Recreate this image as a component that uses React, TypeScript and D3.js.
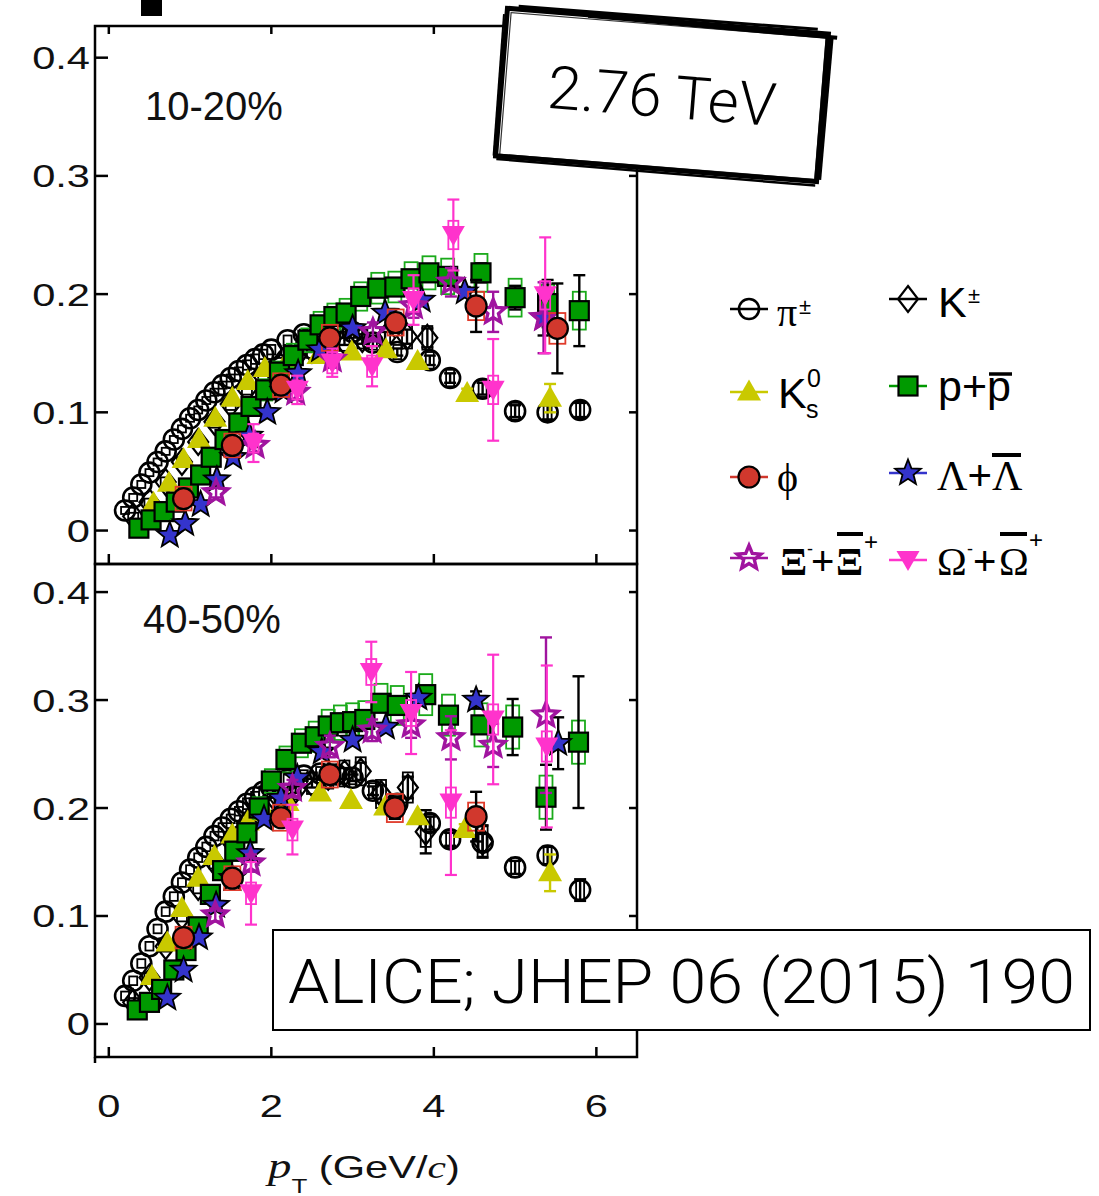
import React from "react";
import * as d3 from "d3";

// [pT, v2, statErr, sysErr]
type Pt = [number, number, number, number];

const xTicks = [0, 2, 4, 6];
const yTicks = [0, 0.1, 0.2, 0.3, 0.4];
const yTickLabels = ["0", "0.1", "0.2", "0.3", "0.4"];
const panelLabels = ["10-20%", "40-50%"];

// ---------------- 10-20% ----------------
const pion1020: Pt[] = [
  [0.2, 0.017, 0, 0.003], [0.3, 0.028, 0, 0.003], [0.4, 0.039, 0, 0.003], [0.5, 0.049, 0, 0.003],
  [0.6, 0.058, 0, 0.003], [0.7, 0.067, 0, 0.003], [0.8, 0.077, 0, 0.003], [0.9, 0.086, 0, 0.003],
  [1.0, 0.095, 0, 0.003], [1.1, 0.102, 0, 0.003], [1.2, 0.11, 0, 0.003], [1.3, 0.117, 0, 0.003],
  [1.4, 0.123, 0, 0.003], [1.5, 0.129, 0, 0.003], [1.6, 0.135, 0, 0.003], [1.7, 0.14, 0, 0.004],
  [1.8, 0.145, 0, 0.004], [1.9, 0.149, 0, 0.004], [2.0, 0.153, 0, 0.004], [2.2, 0.161, 0, 0.004],
  [2.4, 0.166, 0, 0.004], [2.6, 0.169, 0, 0.005], [2.8, 0.17, 0, 0.005], [3.0, 0.168, 0.002, 0.005],
  [3.25, 0.159, 0.003, 0.006], [3.55, 0.151, 0.003, 0.006], [3.95, 0.144, 0.004, 0.007],
  [4.2, 0.129, 0.004, 0.007], [4.6, 0.12, 0.005, 0.007], [5.0, 0.101, 0.005, 0.007],
  [5.4, 0.1, 0.006, 0.007], [5.8, 0.102, 0.006, 0.007],
];
const kaon1020: Pt[] = [
  [0.3, 0.012, 0, 0.003], [0.5, 0.024, 0, 0.003], [0.7, 0.041, 0, 0.004], [0.9, 0.058, 0, 0.004],
  [1.1, 0.075, 0, 0.004], [1.3, 0.092, 0, 0.005], [1.5, 0.107, 0, 0.005], [1.7, 0.12, 0, 0.005],
  [1.9, 0.131, 0, 0.006], [2.1, 0.14, 0, 0.006], [2.3, 0.147, 0.002, 0.006], [2.5, 0.153, 0.002, 0.007],
  [2.7, 0.157, 0.003, 0.007], [2.9, 0.16, 0.003, 0.008], [3.12, 0.162, 0.004, 0.008],
  [3.4, 0.163, 0.005, 0.009], [3.67, 0.164, 0.006, 0.01], [3.92, 0.163, 0.008, 0.01],
];
const k0s1020: Pt[] = [
  [0.55, 0.023, 0, 0], [0.74, 0.04, 0, 0], [0.92, 0.06, 0, 0], [1.11, 0.077, 0, 0],
  [1.31, 0.095, 0, 0], [1.52, 0.112, 0, 0], [1.71, 0.126, 0, 0], [1.92, 0.137, 0, 0],
  [2.2, 0.144, 0, 0], [2.58, 0.148, 0, 0], [2.99, 0.151, 0, 0], [3.41, 0.153, 0, 0],
  [3.8, 0.143, 0, 0], [4.41, 0.116, 0.004, 0], [5.43, 0.112, 0.012, 0],
];
const proton1020: Pt[] = [
  [0.37, 0.002, 0, 0.004], [0.52, 0.009, 0, 0.004], [0.68, 0.016, 0, 0.005], [0.83, 0.024, 0, 0.005],
  [0.98, 0.036, 0, 0.006], [1.13, 0.047, 0, 0.006], [1.26, 0.062, 0, 0.007], [1.43, 0.077, 0, 0.007],
  [1.6, 0.091, 0, 0.008], [1.75, 0.105, 0, 0.008], [1.93, 0.119, 0, 0.009], [2.1, 0.134, 0, 0.009],
  [2.27, 0.148, 0, 0.01], [2.45, 0.161, 0, 0.01], [2.6, 0.174, 0, 0.011], [2.77, 0.181, 0, 0.011],
  [2.92, 0.184, 0, 0.012], [3.1, 0.198, 0, 0.012], [3.31, 0.205, 0, 0.013], [3.52, 0.206, 0, 0.013],
  [3.72, 0.213, 0, 0.014], [3.94, 0.218, 0, 0.014], [4.17, 0.215, 0, 0.015], [4.58, 0.218, 0.008, 0.016],
  [5.0, 0.197, 0.01, 0.016], [5.4, 0.192, 0.02, 0.016], [5.79, 0.186, 0.03, 0.016],
];
const phi1020: Pt[] = [
  [0.92, 0.027, 0.004, 0.01], [1.52, 0.072, 0.005, 0.01], [2.12, 0.123, 0.005, 0.01],
  [2.72, 0.163, 0.006, 0.011], [3.53, 0.176, 0.008, 0.011], [4.52, 0.19, 0.022, 0.012],
  [5.52, 0.171, 0.038, 0.013],
];
const lambda1020: Pt[] = [
  [0.75, -0.004, 0, 0], [0.94, 0.006, 0, 0], [1.13, 0.022, 0, 0], [1.33, 0.043, 0, 0],
  [1.53, 0.062, 0, 0], [1.73, 0.08, 0, 0], [1.95, 0.1, 0, 0], [2.15, 0.118, 0, 0],
  [2.33, 0.133, 0, 0], [2.6, 0.153, 0, 0], [3.0, 0.171, 0, 0], [3.4, 0.184, 0, 0],
  [3.85, 0.195, 0, 0], [4.38, 0.202, 0.004, 0], [5.35, 0.18, 0.015, 0],
];
const xi1020: Pt[] = [
  [1.32, 0.032, 0.004, 0], [1.8, 0.072, 0.006, 0], [2.3, 0.117, 0.006, 0], [2.75, 0.145, 0.007, 0],
  [3.25, 0.168, 0.008, 0], [3.75, 0.19, 0.01, 0], [4.21, 0.21, 0.012, 0], [4.73, 0.185, 0.017, 0],
  [5.35, 0.18, 0.03, 0],
];
const omega1020: Pt[] = [
  [1.78, 0.074, 0.016, 0.008], [2.32, 0.119, 0.012, 0.008], [2.75, 0.142, 0.012, 0.009],
  [3.24, 0.139, 0.017, 0.009], [3.75, 0.195, 0.021, 0.01], [4.24, 0.25, 0.03, 0.012],
  [4.73, 0.119, 0.043, 0.012], [5.37, 0.199, 0.049, 0.012],
];

// ---------------- 40-50% ----------------
const pion4050: Pt[] = [
  [0.2, 0.026, 0, 0.004], [0.3, 0.04, 0, 0.004], [0.4, 0.056, 0, 0.004], [0.5, 0.072, 0, 0.004],
  [0.6, 0.088, 0, 0.004], [0.7, 0.104, 0, 0.004], [0.8, 0.118, 0, 0.004], [0.9, 0.131, 0, 0.004],
  [1.0, 0.143, 0, 0.004], [1.1, 0.154, 0, 0.004], [1.2, 0.164, 0, 0.004], [1.3, 0.174, 0, 0.004],
  [1.4, 0.182, 0, 0.004], [1.5, 0.19, 0, 0.004], [1.6, 0.197, 0, 0.004], [1.7, 0.204, 0, 0.005],
  [1.8, 0.21, 0, 0.005], [1.9, 0.215, 0, 0.005], [2.0, 0.219, 0, 0.005], [2.2, 0.226, 0, 0.005],
  [2.4, 0.23, 0, 0.005], [2.6, 0.232, 0, 0.006], [2.8, 0.231, 0, 0.006], [3.0, 0.228, 0.003, 0.006],
  [3.25, 0.216, 0.004, 0.007], [3.55, 0.204, 0.005, 0.007], [3.95, 0.186, 0.006, 0.008],
  [4.2, 0.171, 0.006, 0.008], [4.6, 0.168, 0.008, 0.009], [5.0, 0.145, 0.006, 0.009],
  [5.4, 0.156, 0.008, 0.009], [5.8, 0.124, 0.01, 0.009],
];
const kaon4050: Pt[] = [
  [0.3, 0.02, 0, 0.004], [0.5, 0.043, 0, 0.004], [0.7, 0.072, 0, 0.005], [0.9, 0.1, 0, 0.005],
  [1.1, 0.127, 0, 0.006], [1.3, 0.15, 0, 0.006], [1.5, 0.17, 0, 0.007], [1.7, 0.186, 0, 0.007],
  [1.9, 0.199, 0, 0.008], [2.1, 0.209, 0, 0.008], [2.3, 0.217, 0.003, 0.009], [2.5, 0.223, 0.004, 0.01],
  [2.7, 0.229, 0.004, 0.011], [2.9, 0.232, 0.005, 0.012], [3.1, 0.234, 0.008, 0.013],
  [3.35, 0.213, 0.008, 0.013], [3.68, 0.219, 0.01, 0.014], [3.9, 0.178, 0.02, 0.014],
  [4.6, 0.169, 0.015, 0.014],
];
const k0s4050: Pt[] = [
  [0.53, 0.044, 0, 0], [0.72, 0.075, 0, 0], [0.9, 0.107, 0, 0], [1.1, 0.135, 0, 0],
  [1.3, 0.155, 0, 0], [1.52, 0.175, 0, 0], [1.71, 0.187, 0, 0], [1.92, 0.196, 0, 0],
  [2.2, 0.205, 0, 0], [2.6, 0.214, 0, 0], [2.98, 0.207, 0, 0], [3.4, 0.201, 0, 0],
  [3.8, 0.192, 0, 0], [4.38, 0.18, 0.005, 0], [5.43, 0.14, 0.017, 0],
];
const proton4050: Pt[] = [
  [0.35, 0.013, 0, 0.005], [0.5, 0.02, 0, 0.005], [0.65, 0.032, 0, 0.006], [0.8, 0.05, 0, 0.006],
  [0.95, 0.068, 0, 0.007], [1.1, 0.09, 0, 0.007], [1.25, 0.12, 0, 0.008], [1.4, 0.142, 0, 0.008],
  [1.55, 0.16, 0, 0.009], [1.7, 0.177, 0, 0.009], [1.85, 0.2, 0, 0.01], [2.0, 0.225, 0, 0.011],
  [2.18, 0.245, 0, 0.012], [2.37, 0.26, 0, 0.013], [2.54, 0.266, 0, 0.014], [2.7, 0.276, 0, 0.015],
  [2.85, 0.279, 0, 0.016], [3.0, 0.28, 0, 0.017], [3.15, 0.282, 0, 0.017], [3.35, 0.297, 0, 0.018],
  [3.55, 0.295, 0, 0.018], [3.9, 0.305, 0, 0.019], [4.18, 0.286, 0, 0.019], [4.58, 0.277, 0.008, 0.02],
  [4.97, 0.275, 0.026, 0.02], [5.38, 0.21, 0.03, 0.02], [5.78, 0.261, 0.061, 0.02],
];
const phi4050: Pt[] = [
  [0.92, 0.08, 0.005, 0.01], [1.52, 0.135, 0.006, 0.011], [2.12, 0.191, 0.007, 0.012],
  [2.72, 0.231, 0.008, 0.012], [3.52, 0.2, 0.01, 0.013], [4.52, 0.192, 0.023, 0.013],
];
const lambda4050: Pt[] = [
  [0.72, 0.024, 0, 0], [0.92, 0.05, 0, 0], [1.11, 0.08, 0, 0], [1.32, 0.11, 0, 0],
  [1.52, 0.135, 0, 0], [1.74, 0.158, 0, 0], [1.91, 0.19, 0, 0], [2.12, 0.209, 0, 0],
  [2.32, 0.228, 0, 0], [2.62, 0.252, 0, 0], [3.0, 0.263, 0, 0], [3.41, 0.275, 0, 0],
  [3.81, 0.302, 0, 0], [4.52, 0.3, 0.008, 0], [5.53, 0.26, 0.024, 0],
];
const xi4050: Pt[] = [
  [1.31, 0.101, 0.006, 0], [1.75, 0.149, 0.008, 0], [2.26, 0.218, 0.008, 0], [2.72, 0.257, 0.01, 0],
  [3.24, 0.272, 0.01, 0], [3.72, 0.277, 0.012, 0], [4.21, 0.265, 0.02, 0], [4.73, 0.258, 0.02, 0],
  [5.38, 0.286, 0.072, 0],
];
const omega4050: Pt[] = [
  [1.75, 0.121, 0.029, 0.01], [2.26, 0.18, 0.023, 0.01], [3.23, 0.326, 0.028, 0.012],
  [3.72, 0.288, 0.038, 0.012], [4.21, 0.205, 0.067, 0.014], [4.73, 0.282, 0.06, 0.014],
  [5.39, 0.257, 0.075, 0.014],
];

// ---------------- layout ----------------
const W = 1099;
const H = 1196;
const X0 = 95;
const X1 = 637;
const xScale = d3.scaleLinear().domain([-0.17, 6.5]).range([X0, X1]);
const yTop = d3.scaleLinear().domain([-0.0283, 0.4268]).range([564, 26]);
const yBot = d3.scaleLinear().domain([-0.0306, 0.426]).range([1057, 564]);

const COL = {
  yellow: "#c9c900",
  green: "#009a00",
  greenSys: "#1aaa1a",
  red: "#d1382d",
  redSys: "#e03a2a",
  blue: "#3434cc",
  purple: "#a0149f",
  pink: "#ff33cc",
};

type Kind = "pion" | "kaon" | "k0s" | "proton" | "phi" | "lambda" | "xi" | "omega";

function starPath(x: number, y: number, R: number, r: number) {
  const pts: string[] = [];
  for (let i = 0; i < 10; i++) {
    const a = -Math.PI / 2 + (i * Math.PI) / 5;
    const rr = i % 2 === 0 ? R : r;
    pts.push(`${(x + rr * Math.cos(a)).toFixed(2)},${(y + rr * Math.sin(a)).toFixed(2)}`);
  }
  return "M" + pts.join("L") + "Z";
}

function Marker({ kind, x, y }: { kind: Kind; x: number; y: number }) {
  switch (kind) {
    case "pion":
      return <circle cx={x} cy={y} r={10} fill="none" stroke="#000" strokeWidth={2.6} />;
    case "kaon":
      return (
        <path d={`M${x},${y - 13}L${x + 10},${y}L${x},${y + 13}L${x - 10},${y}Z`} fill="none" stroke="#000" strokeWidth={2.2} />
      );
    case "k0s":
      return <path d={`M${x},${y - 12.5}L${x + 12},${y + 8.5}L${x - 12},${y + 8.5}Z`} fill={COL.yellow} />;
    case "proton":
      return <rect x={x - 9.5} y={y - 9.5} width={19} height={19} fill={COL.green} stroke="#000" strokeWidth={2.2} />;
    case "phi":
      return <circle cx={x} cy={y} r={10.5} fill={COL.red} stroke="#000" strokeWidth={2.2} />;
    case "lambda":
      return <path d={starPath(x, y, 13.5, 5.8)} fill={COL.blue} stroke="#000" strokeWidth={1.8} />;
    case "xi":
      return <path d={starPath(x, y, 12.5, 5.6)} fill="none" stroke={COL.purple} strokeWidth={3.4} />;
    case "omega":
      return <path d={`M${x - 11.5},${y - 9}L${x + 11.5},${y - 9}L${x},${y + 11}Z`} fill={COL.pink} />;
  }
}

type SeriesDef = {
  kind: Kind;
  top: Pt[];
  bot: Pt[];
  bar: string;
  sysColor: string;
  sysW: number;
};

const SERIES: SeriesDef[] = [
  { kind: "kaon", top: kaon1020, bot: kaon4050, bar: "#000", sysColor: "#000", sysW: 10 },
  { kind: "pion", top: pion1020, bot: pion4050, bar: "#000", sysColor: "#000", sysW: 8 },
  { kind: "k0s", top: k0s1020, bot: k0s4050, bar: COL.yellow, sysColor: COL.yellow, sysW: 10 },
  { kind: "proton", top: proton1020, bot: proton4050, bar: "#000", sysColor: COL.greenSys, sysW: 13 },
  { kind: "lambda", top: lambda1020, bot: lambda4050, bar: "#000", sysColor: COL.blue, sysW: 10 },
  { kind: "xi", top: xi1020, bot: xi4050, bar: COL.purple, sysColor: COL.purple, sysW: 10 },
  { kind: "phi", top: phi1020, bot: phi4050, bar: "#000", sysColor: COL.redSys, sysW: 16 },
  { kind: "omega", top: omega1020, bot: omega4050, bar: COL.pink, sysColor: COL.pink, sysW: 10 },
];

function SeriesMarks({ s, data, y }: { s: SeriesDef; data: Pt[]; y: d3.ScaleLinear<number, number> }) {
  return (
    <g>
      {data.map((d, i) =>
        d[3] > 0 ? (
          <rect
            key={"s" + i}
            x={xScale(d[0]) - s.sysW / 2}
            y={y(d[1] + d[3])}
            width={s.sysW}
            height={y(d[1] - d[3]) - y(d[1] + d[3])}
            fill="none"
            stroke={s.sysColor}
            strokeWidth={1.8}
          />
        ) : null
      )}
      {data.map((d, i) =>
        d[2] > 0 ? (
          <g key={"e" + i} stroke={s.bar} strokeWidth={s.bar === COL.pink ? 2.2 : 2.4}>
            <line x1={xScale(d[0])} x2={xScale(d[0])} y1={y(d[1] + d[2])} y2={y(d[1] - d[2])} />
            <line x1={xScale(d[0]) - 6} x2={xScale(d[0]) + 6} y1={y(d[1] + d[2])} y2={y(d[1] + d[2])} />
            <line x1={xScale(d[0]) - 6} x2={xScale(d[0]) + 6} y1={y(d[1] - d[2])} y2={y(d[1] - d[2])} />
          </g>
        ) : null
      )}
      {data.map((d, i) => (
        <Marker key={"m" + i} kind={s.kind} x={xScale(d[0])} y={y(d[1])} />
      ))}
    </g>
  );
}

const SANS = "'Liberation Sans', Arial, Helvetica, sans-serif";
const SERIF = "'Liberation Serif', 'Times New Roman', serif";
const LIGHT = "Roboto, 'Liberation Sans', sans-serif";

function Panel({ which }: { which: "top" | "bot" }) {
  const y = which === "top" ? yTop : yBot;
  const [yb, yt] = [y.range()[0], y.range()[1]];
  return (
    <g>
      <rect x={X0} y={yt} width={X1 - X0} height={yb - yt} fill="none" stroke="#000" strokeWidth={2.5} />
      {yTicks.map((t, i) => (
        <g key={"yt" + i} stroke="#000" strokeWidth={2.5}>
          <line x1={X0} x2={X0 + 13} y1={y(t)} y2={y(t)} />
          <line x1={X1} x2={X1 - 8} y1={y(t)} y2={y(t)} />
        </g>
      ))}
      {xTicks.map((t, i) => (
        <g key={"xt" + i} stroke="#000" strokeWidth={2.5}>
          <line x1={xScale(t)} x2={xScale(t)} y1={yb} y2={yb - 10} />
          {which === "top" ? <line x1={xScale(t)} x2={xScale(t)} y1={yt} y2={yt + 8} /> : null}
        </g>
      ))}
      {yTicks.map((t, i) => (
        <text
          key={"yl" + i}
          transform={`translate(90,${y(t) + 11.5}) scale(1.3,1)`}
          textAnchor="end"
          fontFamily={SANS}
          fontSize={32}
          fill="#111"
        >
          {yTickLabels[i]}
        </text>
      ))}
      <text x={which === "top" ? 145 : 143} y={which === "top" ? 120 : 633} fontFamily={SANS} fontSize={40} fill="#111">
        {which === "top" ? panelLabels[0] : panelLabels[1]}
      </text>
      {SERIES.map((s) => (
        <SeriesMarks key={s.kind} s={s} data={which === "top" ? s.top : s.bot} y={y} />
      ))}
    </g>
  );
}

function LegendEntry({ kind, x, y, color }: { kind: Kind; x: number; y: number; color: string }) {
  return (
    <g>
      <line x1={x - 19} x2={x + 19} y1={y} y2={y} stroke={color} strokeWidth={2.5} />
      <Marker kind={kind} x={x} y={y} />
    </g>
  );
}

function Legend() {
  return (
    <g fill="#000">
      <LegendEntry kind="pion" x={749} y={309} color="#000" />
      <text x={777} y={326} fontFamily={SERIF} fontSize={40}>π</text>
      <text x={799} y={314} fontFamily={SANS} fontSize={22}>±</text>

      <LegendEntry kind="kaon" x={908} y={299} color="#000" />
      <text x={938} y={317} fontFamily={SANS} fontSize={43}>K</text>
      <text x={968} y={303} fontFamily={SANS} fontSize={22}>±</text>

      <LegendEntry kind="k0s" x={749} y={392} color={COL.yellow} />
      <text x={778} y={408} fontFamily={SANS} fontSize={43}>K</text>
      <text x={806} y={418} fontFamily={SANS} fontSize={25}>s</text>
      <text x={807} y={387} fontFamily={SANS} fontSize={25}>0</text>

      <LegendEntry kind="proton" x={908} y={386} color={COL.green} />
      <text x={938} y={401} fontFamily={SANS} fontSize={43}>p+p</text>
      <line x1={989} x2={1012} y1={374} y2={374} stroke="#000" strokeWidth={3.5} />

      <LegendEntry kind="phi" x={749} y={477} color={COL.red} />
      <text x={777} y={491} fontFamily={SERIF} fontSize={40}>ϕ</text>

      <LegendEntry kind="lambda" x={908} y={473} color={COL.blue} />
      <text x={937} y={490} fontFamily={SERIF} fontSize={42}>
        Λ<tspan fontFamily={SANS}>+</tspan>Λ
      </text>
      <line x1={992} x2={1021} y1={455} y2={455} stroke="#000" strokeWidth={4} />

      <LegendEntry kind="xi" x={749} y={558} color={COL.purple} />
      <text x={780} y={575} fontFamily={SERIF} fontSize={40} fontWeight="bold">
        Ξ
      </text>
      <text x={807} y={555} fontFamily={SANS} fontSize={18}>-</text>
      <text x={811} y={575} fontFamily={SANS} fontSize={40}>+</text>
      <text x={836} y={575} fontFamily={SERIF} fontSize={40} fontWeight="bold">
        Ξ
      </text>
      <line x1={837} x2={863} y1={534} y2={534} stroke="#000" strokeWidth={4} />
      <text x={864} y={550} fontFamily={SANS} fontSize={24}>+</text>

      <LegendEntry kind="omega" x={908} y={560} color={COL.pink} />
      <text x={937} y={575} fontFamily={SERIF} fontSize={40}>
        Ω
      </text>
      <text x={967} y={555} fontFamily={SANS} fontSize={18}>-</text>
      <text x={973} y={575} fontFamily={SANS} fontSize={40}>+</text>
      <text x={999} y={575} fontFamily={SERIF} fontSize={40}>
        Ω
      </text>
      <line x1={1000} x2={1027} y1={534} y2={534} stroke="#000" strokeWidth={4} />
      <text x={1029} y={548} fontFamily={SANS} fontSize={24}>+</text>
    </g>
  );
}

function EnergyBox() {
  return (
    <g transform="translate(662,95) rotate(4.6)">
      <rect x={-161} y={-74} width={322} height={148} fill="#fff" stroke="#000" strokeWidth={5} />
      <rect x={-157} y={-70} width={316} height={142} fill="none" stroke="#000" strokeWidth={1.2} opacity={0.8} />
      <line x1={-150} x2={150} y1={-77} y2={-78} stroke="#000" strokeWidth={3} />
      <line x1={-80} x2={170} y1={-73} y2={-71} stroke="#000" strokeWidth={4} />
      <line x1={164} x2={163} y1={-72} y2={72} stroke="#000" strokeWidth={5} />
      <line x1={-164} x2={-163} y1={-68} y2={74} stroke="#000" strokeWidth={2} />
      <line x1={-160} x2={160} y1={77} y2={78} stroke="#000" strokeWidth={2.5} />
      <text x={0} y={22} textAnchor="middle" fontFamily={LIGHT} fontWeight={300} fontSize={60} fill="#000">
        2.76 TeV
      </text>
    </g>
  );
}

export default function App() {
  return (
    <svg
      width={W}
      height={H}
      viewBox={`0 0 ${W} ${H}`}
      style={{ position: "absolute", left: 0, top: 0, background: "#fff" }}
    >
      <rect x={0} y={0} width={W} height={H} fill="#fff" />
      <rect x={141} y={0} width={21} height={16} fill="#000" />
      <Panel which="top" />
      <Panel which="bot" />
      <line x1={X0} x2={X0} y1={1057} y2={1063} stroke="#000" strokeWidth={2.5} />
      {xTicks.map((t) => (
        <text
          key={"xl" + t}
          transform={`translate(${xScale(t)},1117) scale(1.3,1)`}
          textAnchor="middle"
          fontFamily={SANS}
          fontSize={32}
          fill="#111"
        >
          {t}
        </text>
      ))}
      <text transform="translate(268,1178) scale(1.3,1)" fontFamily={SANS} fontSize={32} fill="#111">
        <tspan fontFamily={SERIF} fontStyle="italic" fontSize={36}>p</tspan>
        <tspan fontSize={20} dy={15}>T</tspan>
        <tspan dy={-15}> (GeV/</tspan>
        <tspan fontFamily={SERIF} fontStyle="italic">c</tspan>
        <tspan>)</tspan>
      </text>
      <Legend />
      <EnergyBox />
      <rect x={273} y={930} width={817} height={100} fill="#fff" stroke="#000" strokeWidth={2} />
      <text
        x={288}
        y={1003}
        fontFamily={LIGHT}
        fontWeight={300}
        fontSize={62}
        textLength={787}
        lengthAdjust="spacingAndGlyphs"
        fill="#000"
      >
        ALICE; JHEP 06 (2015) 190
      </text>
    </svg>
  );
}
